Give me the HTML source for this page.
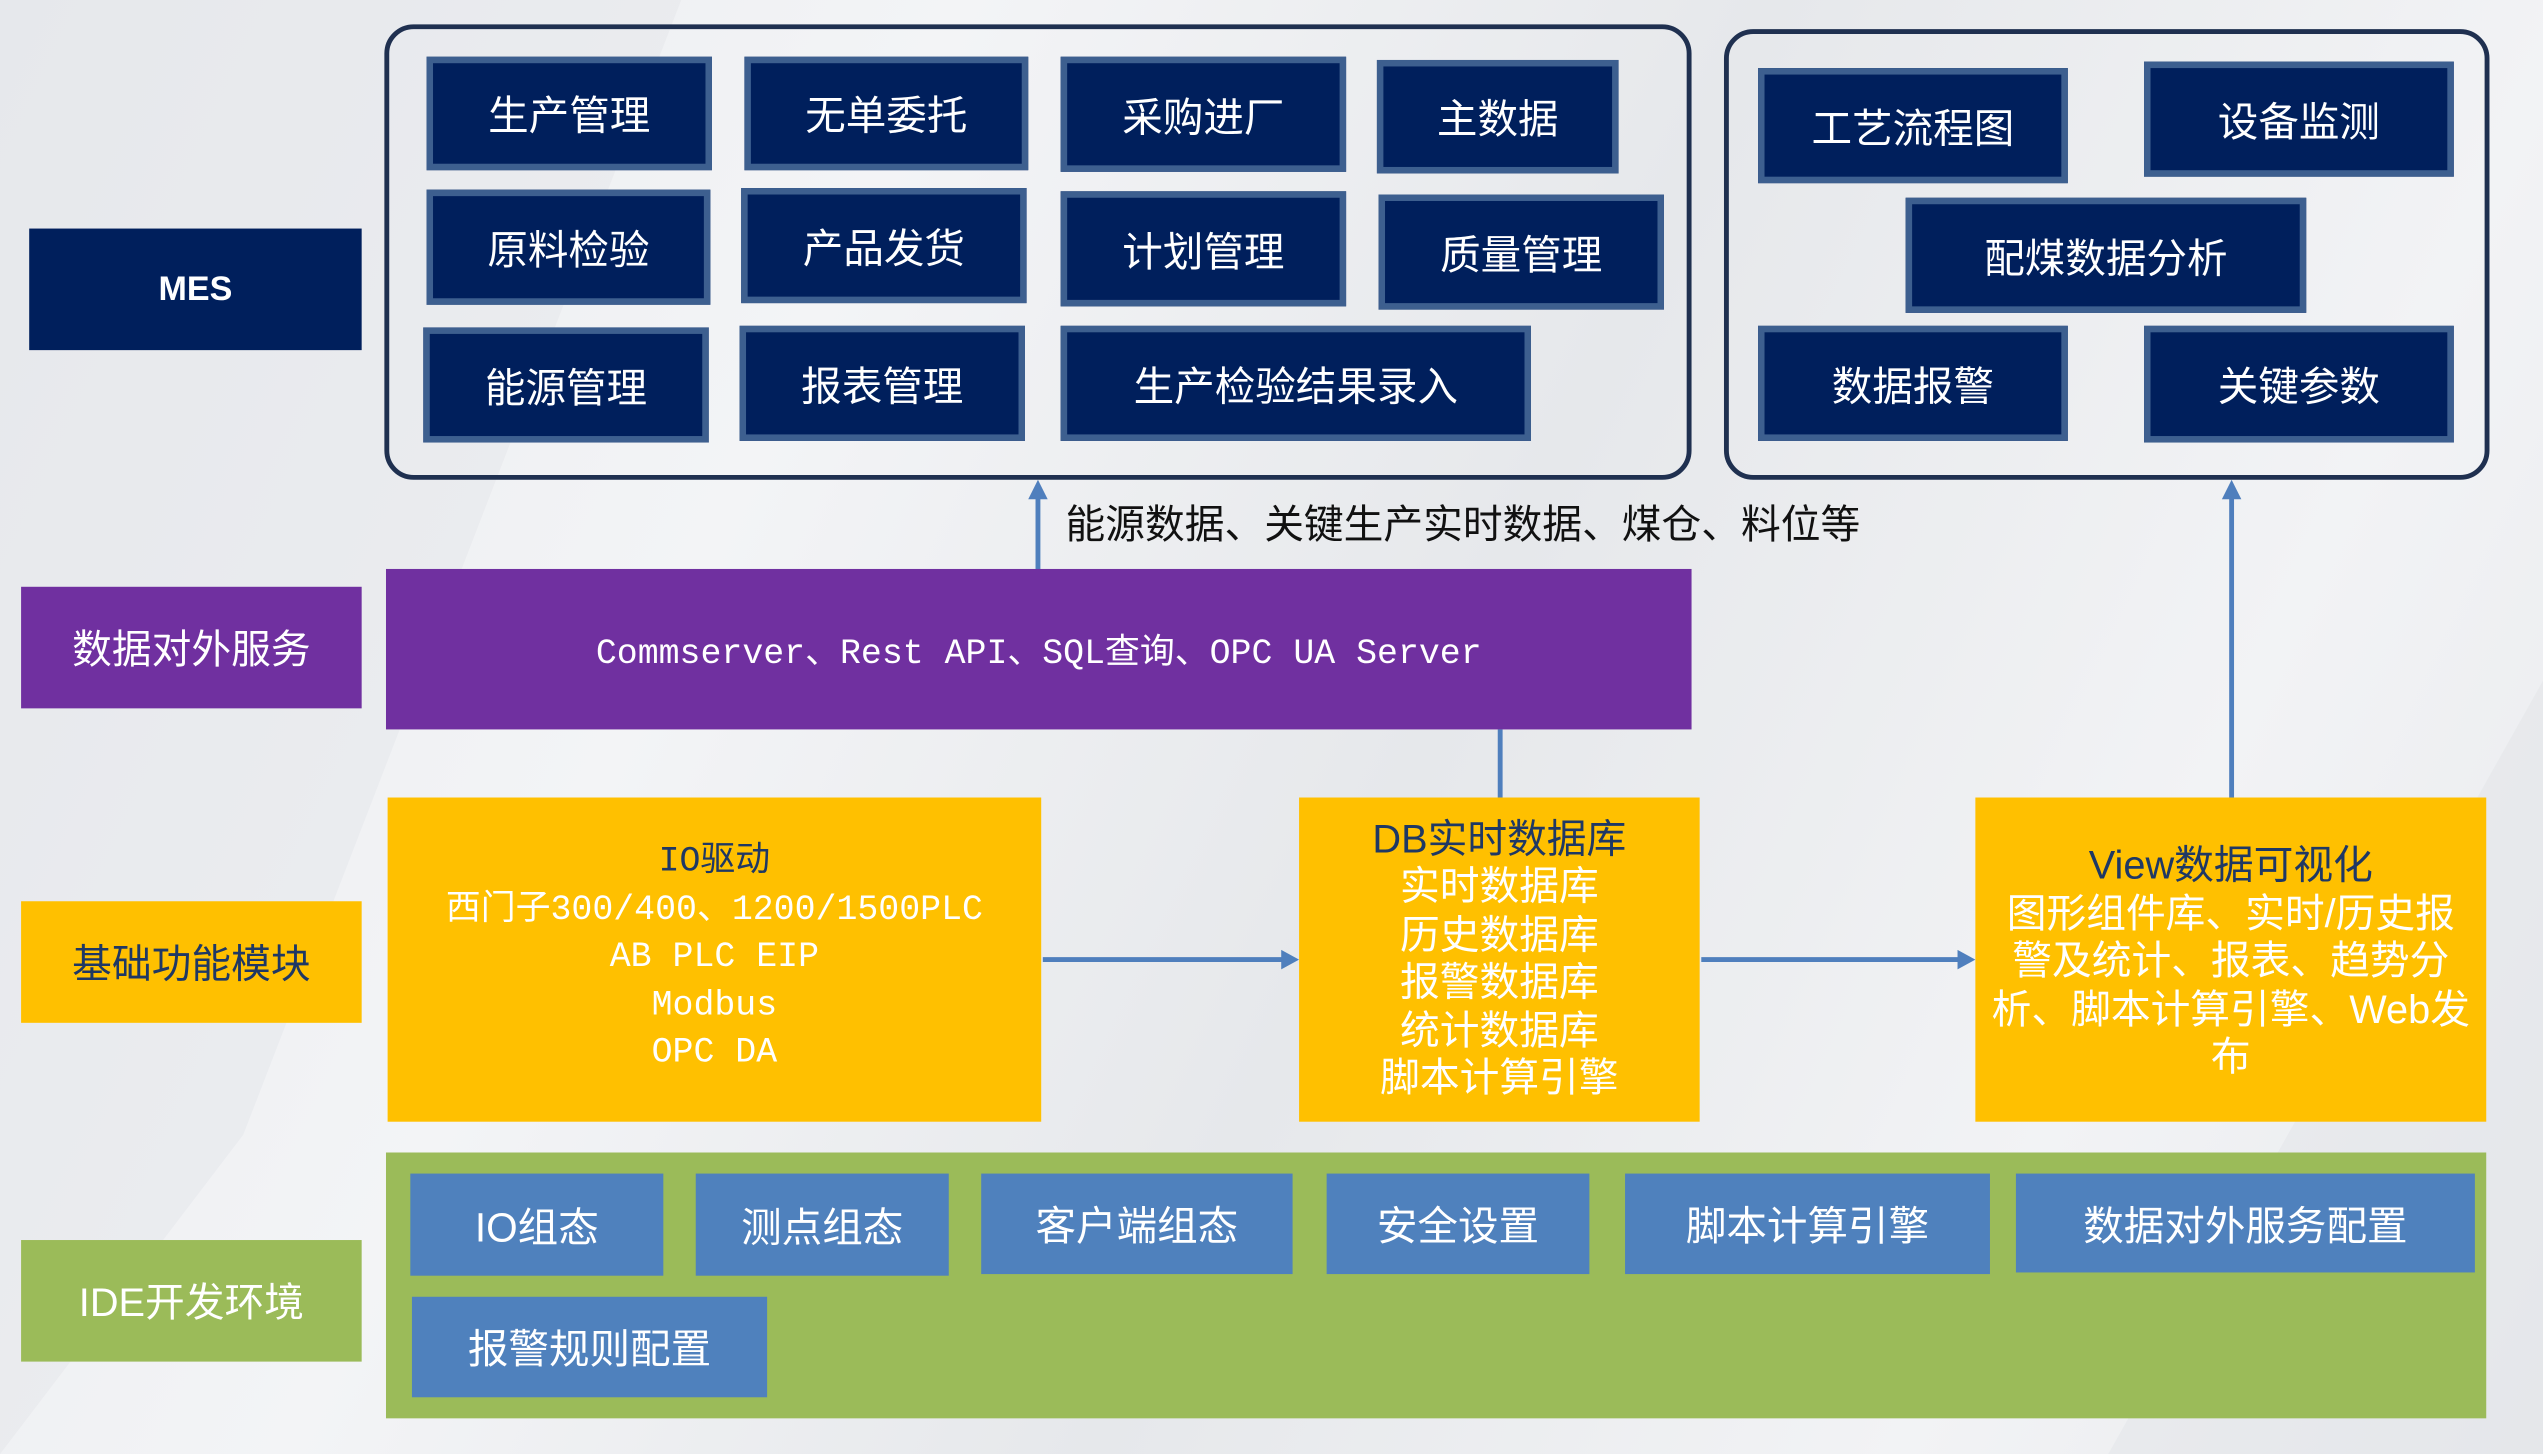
<!DOCTYPE html>
<html><head><meta charset="utf-8"><style>
html,body{margin:0;padding:0;}
body{width:2543px;height:1454px;overflow:hidden;background:#eef0f2;}
#st{position:absolute;left:0;top:0;width:1568px;height:897px;transform-origin:0 0;transform:scale(1.62181,1.62096);
 font-family:"Liberation Sans","Noto Sans CJK SC",sans-serif;
 background:linear-gradient(115deg,#e9ebee 0%,#f3f4f6 30%,#e6e8eb 55%,#f2f3f5 80%,#e8eaed 100%);}
.b{position:absolute;display:flex;align-items:center;justify-content:center;text-align:center;box-sizing:border-box;}
.n{background:#001f5c;border:4px solid #3d5f8f;color:#fff;font-size:25px;}
.l{color:#fff;font-size:22px;}
.u{background:#4f81bd;color:#fff;font-size:25px;}
.t{display:inline-block;white-space:nowrap;}
.c{position:absolute;border:3px solid #1f3050;border-radius:18px;box-sizing:border-box;}
.y{background:#ffc000;color:#fff;font-size:24.5px;line-height:29.5px;}
</style></head><body><div id="st">
<svg width="1568" height="897" style="position:absolute;left:0;top:0">
<polygon points="0,0 420,0 150,700 0,897" fill="#e4e6ea" opacity=".5"/>
<polygon points="1300,897 1568,420 1568,897" fill="#e2e4e8" opacity=".5"/>
<line x1="640" y1="351" x2="640" y2="306" stroke="#4f7fbd" stroke-width="3"/>
<polygon points="634,308 646,308 640,296" fill="#4f7fbd"/>
<line x1="925" y1="450" x2="925" y2="492" stroke="#4f7fbd" stroke-width="3"/>
<line x1="1376" y1="492" x2="1376" y2="306" stroke="#4f7fbd" stroke-width="3"/>
<polygon points="1370,308 1382,308 1376,296" fill="#4f7fbd"/>
<line x1="643" y1="592" x2="792" y2="592" stroke="#4f7fbd" stroke-width="3"/>
<polygon points="790,586 790,598 801,592" fill="#4f7fbd"/>
<line x1="1049" y1="592" x2="1209" y2="592" stroke="#4f7fbd" stroke-width="3"/>
<polygon points="1207,586 1207,598 1218,592" fill="#4f7fbd"/>
</svg>
<div class="b l" style="left:18px;top:141px;width:205px;height:75px;background:#001f5c;font-weight:bold;font-size:21px"><span class="t">MES</span></div>
<div class="b l" style="left:13px;top:362px;width:210px;height:75px;background:#7030a0;font-size:24.5px"><span class="t">数据对外服务</span></div>
<div class="b" style="left:13px;top:556px;width:210px;height:75px;background:#ffc000;color:#1f3864;font-size:24.5px"><span class="t">基础功能模块</span></div>
<div class="b l" style="left:13px;top:765px;width:210px;height:75px;background:#9bbb59;font-size:24.5px"><span class="t">IDE开发环境</span></div>

<div class="c" style="left:237px;top:15px;width:806px;height:281px"></div>
<div class="c" style="left:1063px;top:18px;width:472px;height:278px"></div>

<div class="b n" style="left:263px;top:35px;width:176px;height:70px"><span class="t">生产管理</span></div>
<div class="b n" style="left:459px;top:35px;width:175px;height:70px"><span class="t">无单委托</span></div>
<div class="b n" style="left:654px;top:35px;width:176px;height:71px"><span class="t">采购进厂</span></div>
<div class="b n" style="left:849px;top:37px;width:149px;height:70px"><span class="t">主数据</span></div>
<div class="b n" style="left:263px;top:117px;width:175px;height:71px"><span class="t">原料检验</span></div>
<div class="b n" style="left:457px;top:116px;width:176px;height:71px"><span class="t">产品发货</span></div>
<div class="b n" style="left:654px;top:118px;width:176px;height:71px"><span class="t">计划管理</span></div>
<div class="b n" style="left:850px;top:120px;width:176px;height:71px"><span class="t">质量管理</span></div>
<div class="b n" style="left:261px;top:202px;width:176px;height:71px"><span class="t">能源管理</span></div>
<div class="b n" style="left:456px;top:201px;width:176px;height:71px"><span class="t">报表管理</span></div>
<div class="b n" style="left:654px;top:201px;width:290px;height:71px"><span class="t">生产检验结果录入</span></div>

<div class="b n" style="left:1084px;top:42px;width:191px;height:71px"><span class="t">工艺流程图</span></div>
<div class="b n" style="left:1322px;top:38px;width:191px;height:71px"><span class="t">设备监测</span></div>
<div class="b n" style="left:1175px;top:122px;width:247px;height:71px"><span class="t">配煤数据分析</span></div>
<div class="b n" style="left:1084px;top:201px;width:191px;height:71px"><span class="t">数据报警</span></div>
<div class="b n" style="left:1322px;top:201px;width:191px;height:72px"><span class="t">关键参数</span></div>

<div style="position:absolute;left:657px;top:309px;font-size:24.5px;line-height:32px;color:#111;white-space:nowrap">能源数据、关键生产实时数据、煤仓、料位等</div>

<div class="b l" style="left:238px;top:351px;width:805px;height:99px;background:#7030a0;font-size:21.5px;font-family:'Liberation Mono','Noto Sans CJK SC',monospace"><span class="t">Commserver、Rest API、SQL查询、OPC UA Server</span></div>

<div class="b y" style="left:239px;top:492px;width:403px;height:200px;font-size:21.5px;font-family:'Liberation Mono','Noto Sans CJK SC',monospace"><span class="t"><span style="color:#1f3864">IO驱动</span><br>西门子300/400、1200/1500PLC<br>AB PLC EIP<br>Modbus<br>OPC DA</span></div>
<div class="b y" style="left:801px;top:492px;width:247px;height:200px"><span class="t"><span style="color:#1f3864">DB实时数据库</span><br>实时数据库<br>历史数据库<br>报警数据库<br>统计数据库<br>脚本计算引擎</span></div>
<div class="b y" style="left:1218px;top:492px;width:315px;height:200px;align-items:flex-start;padding-top:28px"><span class="t"><span style="color:#1f3864">View数据可视化</span><br>图形组件库、实时/历史报<br>警及统计、报表、趋势分<br>析、脚本计算引擎、Web发<br>布</span></div>

<div style="position:absolute;left:238px;top:711px;width:1295px;height:164px;background:#9bbb59"></div>
<div class="b u" style="left:253px;top:724px;width:156px;height:63px"><span class="t">IO组态</span></div>
<div class="b u" style="left:429px;top:724px;width:156px;height:63px"><span class="t">测点组态</span></div>
<div class="b u" style="left:605px;top:724px;width:192px;height:62px"><span class="t">客户端组态</span></div>
<div class="b u" style="left:818px;top:724px;width:162px;height:62px"><span class="t">安全设置</span></div>
<div class="b u" style="left:1002px;top:724px;width:225px;height:62px"><span class="t">脚本计算引擎</span></div>
<div class="b u" style="left:1243px;top:724px;width:283px;height:61px"><span class="t">数据对外服务配置</span></div>
<div class="b u" style="left:254px;top:800px;width:219px;height:62px"><span class="t">报警规则配置</span></div>
</div></body></html>
